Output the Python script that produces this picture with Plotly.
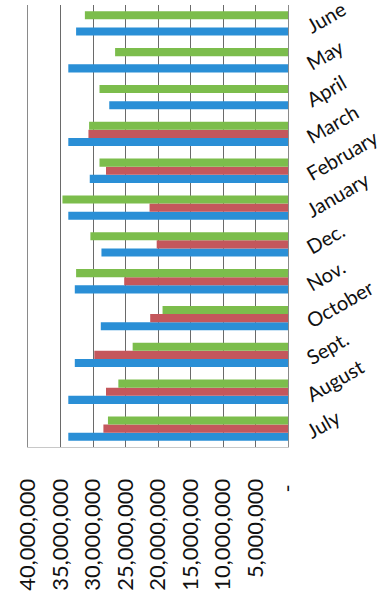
import plotly.graph_objects as go

# Monthly totals by fiscal year (July through June)
months = ["July", "August", "Sept.", "October", "Nov.", "Dec.",
          "January", "February", "March", "April", "May", "June"]
year_a = [33_800_000, 33_800_000, 32_800_000, 28_800_000, 32_800_000, 28_700_000,
          33_800_000, 30_500_000, 33_800_000, 27_500_000, 33_800_000, 32_600_000]
year_b = [28_400_000, 28_000_000, 29_800_000, 21_200_000, 25_200_000, 20_200_000,
          21_300_000, 28_000_000, 30_700_000, None, None, None]
year_c = [27_700_000, 26_100_000, 23_900_000, 19_300_000, 32_600_000, 30_400_000,
          34_700_000, 29_000_000, 30_600_000, 29_000_000, 26_600_000, 31_250_000]

tick_vals = [40_000_000, 35_000_000, 30_000_000, 25_000_000, 20_000_000,
             15_000_000, 10_000_000, 5_000_000, 0]
tick_text = ["40,000,000", "35,000,000", "30,000,000", "25,000,000", "20,000,000",
             "15,000,000", "10,000,000", "5,000,000", "-\u00a0"]

colors = ["#2a8fd6", "#c4575c", "#7cbd4c"]

fig = go.Figure()
for vals, col in zip([year_a, year_b, year_c], colors):
    fig.add_trace(go.Bar(y=months, x=vals, orientation="h",
                         marker=dict(color=col, line=dict(width=0))))

fig.update_layout(
    width=385, height=611,
    margin=dict(l=28, r=97, t=5, b=164, autoexpand=False),
    barmode="group", bargap=0.34, bargroupgap=0,
    showlegend=False,
    plot_bgcolor="white", paper_bgcolor="white",
    font=dict(family="Lato", color="#111111"),
    xaxis=dict(range=[40_000_000, 0], tickvals=tick_vals, ticktext=tick_text,
               tickangle=-90, tickfont=dict(size=22), automargin=False,
               showgrid=True, gridcolor="#6a6a6a", gridwidth=1.2,
               zeroline=False, showline=True, linecolor="#c8c8c8", linewidth=1,
               ticks="", ticklabelstandoff=22),
    yaxis=dict(side="right", categoryorder="array", categoryarray=months,
               range=[-0.5, 11.5], automargin=False,
               tickangle=-30, tickfont=dict(size=20),
               showgrid=False, zeroline=False, showline=True, mirror=True,
               linecolor="#8a8a8a", linewidth=1.2, ticks="",
               ticklabelstandoff=14, ticklabelshift=5),
)

fig.write_html("out.html")
